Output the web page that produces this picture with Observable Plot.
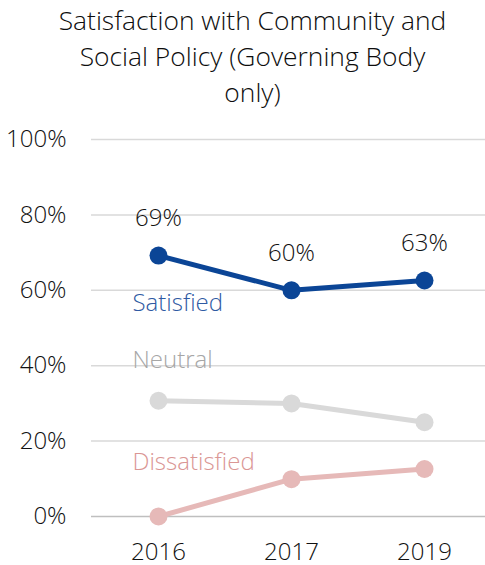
<!DOCTYPE html>
<html>
<head>
<meta charset="utf-8">
<script src="https://cdn.jsdelivr.net/npm/d3@7"></script>
<script src="https://cdn.jsdelivr.net/npm/@observablehq/plot@0.6"></script>
<style>
  html, body { margin: 0; padding: 0; background: #fff; }
  body { width: 485px; height: 565px; overflow: hidden; font-family: "Open Sans", sans-serif; }
  #title { height: 110px; box-sizing: border-box; padding-top: 2px; text-align: center; font-size: 26.4px; font-weight: 300; line-height: 36px; color: #0d0d0d; padding-left: 20px; }
  #title span { display: block; white-space: nowrap; }
</style>
</head>
<body>
<div id="title"><span>Satisfaction with Community and</span><span>Social Policy (Governing Body</span><span>only)</span></div>
<div id="chart"></div>
<script>
const years = ["2016", "2017", "2019"];
const satisfied = [69.2, 60, 62.6];
const neutral = [30.7, 30, 25];
const dissatisfied = [0, 9.9, 12.6];
const yTicks = [0, 20, 40, 60, 80, 100];
const seriesNames = ["Satisfied", "Neutral", "Dissatisfied"];

const seriesValues = [satisfied, neutral, dissatisfied];
const rows = [];
seriesNames.forEach((s, i) => years.forEach((y, j) => rows.push({series: s, year: y, value: seriesValues[i][j]})));
const lineColor = {Satisfied: "#0b4596", Neutral: "#d9d9d9", Dissatisfied: "#e6b9b8"};
const labelColor = {Satisfied: "#2f5aa3", Neutral: "#a6a6a6", Dissatisfied: "#da9694"};
const labelDy = {Satisfied: 48, Neutral: -40, Dissatisfied: -54};
const firsts = seriesNames.map(s => rows.find(r => r.series === s));
const order = ["Neutral", "Dissatisfied", "Satisfied"];
const fw = 300;
const textColor = "#111";

const marks = [
  Plot.ruleY(yTicks.filter(t => t > 0), {stroke: "#d9d9d9", strokeWidth: 1.5}),
  Plot.ruleY([0], {stroke: "#bfbfbf", strokeWidth: 1.5}),
  Plot.axisY({ticks: yTicks, tickSize: 0, tickPadding: 25, tickFormat: d => d + "%", fontSize: 24, fontWeight: fw, fill: textColor}),
  Plot.axisX({tickSize: 0, tickPadding: 26, fontSize: 24, fontWeight: fw, fill: textColor})
];
for (const s of order) {
  const d = rows.filter(r => r.series === s);
  marks.push(Plot.line(d, {x: "year", y: "value", stroke: lineColor[s], strokeWidth: 5}));
  marks.push(Plot.dot(d, {x: "year", y: "value", r: 9, fill: lineColor[s]}));
}
for (const f of firsts) {
  marks.push(Plot.text([f], {x: "year", y: "value", text: "series", textAnchor: "start", dx: -26, dy: labelDy[f.series], fill: labelColor[f.series], fontSize: 24, fontWeight: fw}));
}
marks.push(Plot.text(rows.filter(r => r.series === "Satisfied"), {x: "year", y: "value", text: d => Math.round(d.value) + "%", dy: -37, fill: textColor, fontSize: 24, fontWeight: fw}));

const chart = Plot.plot({
  width: 485,
  height: 455,
  marginLeft: 91,
  marginRight: 0,
  marginTop: 29,
  marginBottom: 49,
  style: {fontFamily: "Open Sans, sans-serif", background: "#fff", overflow: "visible"},
  x: {type: "point", domain: years, range: [157.5, 423.5], padding: 0, label: null},
  y: {domain: [0, 100], label: null},
  marks
});
document.getElementById("chart").appendChild(chart);
</script>
</body>
</html>
